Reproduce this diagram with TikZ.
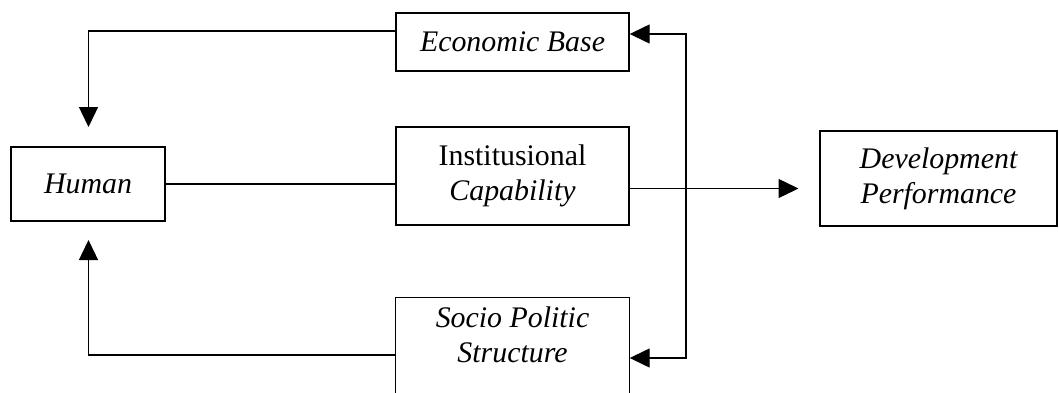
\documentclass[tikz,border=0pt]{standalone}
\usepackage{fontspec}
\setmainfont{Liberation Serif}
\usetikzlibrary{arrows.meta}

\tikzset{
  box/.style={draw, line width=0.8pt, align=center, inner sep=0pt,
    font=\fontsize{17}{20}\selectfont},
  link/.style={line width=0.8pt},
  arr/.style={link, -{Triangle[length=0.4cm, width=0.38cm]}}
}

\begin{document}
\begin{tikzpicture}
        \useasboundingbox (0,0) rectangle (21.18,7.84);

        \node[box, minimum width=4.66cm, minimum height=1.16cm] (econ) at (10.25,7.0) {\itshape Economic Base};
        \node[box, minimum width=3.08cm, minimum height=1.48cm] (human) at (1.76,4.16) {\itshape Human};
        \node[box, minimum width=4.66cm, minimum height=1.96cm] (inst) at (10.25,4.32) {Institusional\\ \itshape Capability};
        \node[box, minimum width=4.74cm, minimum height=1.9cm] (dev) at (18.77,4.27) {\itshape Development\\ \itshape Performance};
        \node[box, draw=none, minimum width=4.66cm, minimum height=1.48cm] (socio) at (10.25,1.14) {\itshape Socio Politic\\ \itshape Structure};
        % socio box runs off the bottom of the page
        \draw[link] ([yshift=-1cm]socio.south west) -- (socio.north west) -- (socio.north east) -- ([yshift=-1cm]socio.south east);

        % corners of the feedback loops
        \coordinate (econout) at (7.92,7.22);
        \coordinate (topleft) at (1.77,7.22);
        \coordinate (humantop) at (1.77,5.30);
        \coordinate (socioout) at (7.92,0.74);
        \coordinate (botleft) at (1.77,0.74);
        \coordinate (humanbot) at (1.77,3.04);
        \coordinate (busup) at (13.72,7.16);
        \coordinate (busdown) at (13.72,0.68);
        \coordinate (devin) at (15.97,4.07);

        \draw[arr] (econout) -- (topleft) -- (humantop);
        \draw[arr] (socioout) -- (botleft) -- (humanbot);
        \draw[link] (human.east) -- (human.east -| inst.west);
        \draw[arr] (inst.east |- devin) -- (devin);

        \draw[arr] (busdown) -- (busup) -- (busup -| econ.east);
        \draw[arr] (busup) -- (busdown) -- (busdown -| socio.east);
      \end{tikzpicture}
\end{document}
